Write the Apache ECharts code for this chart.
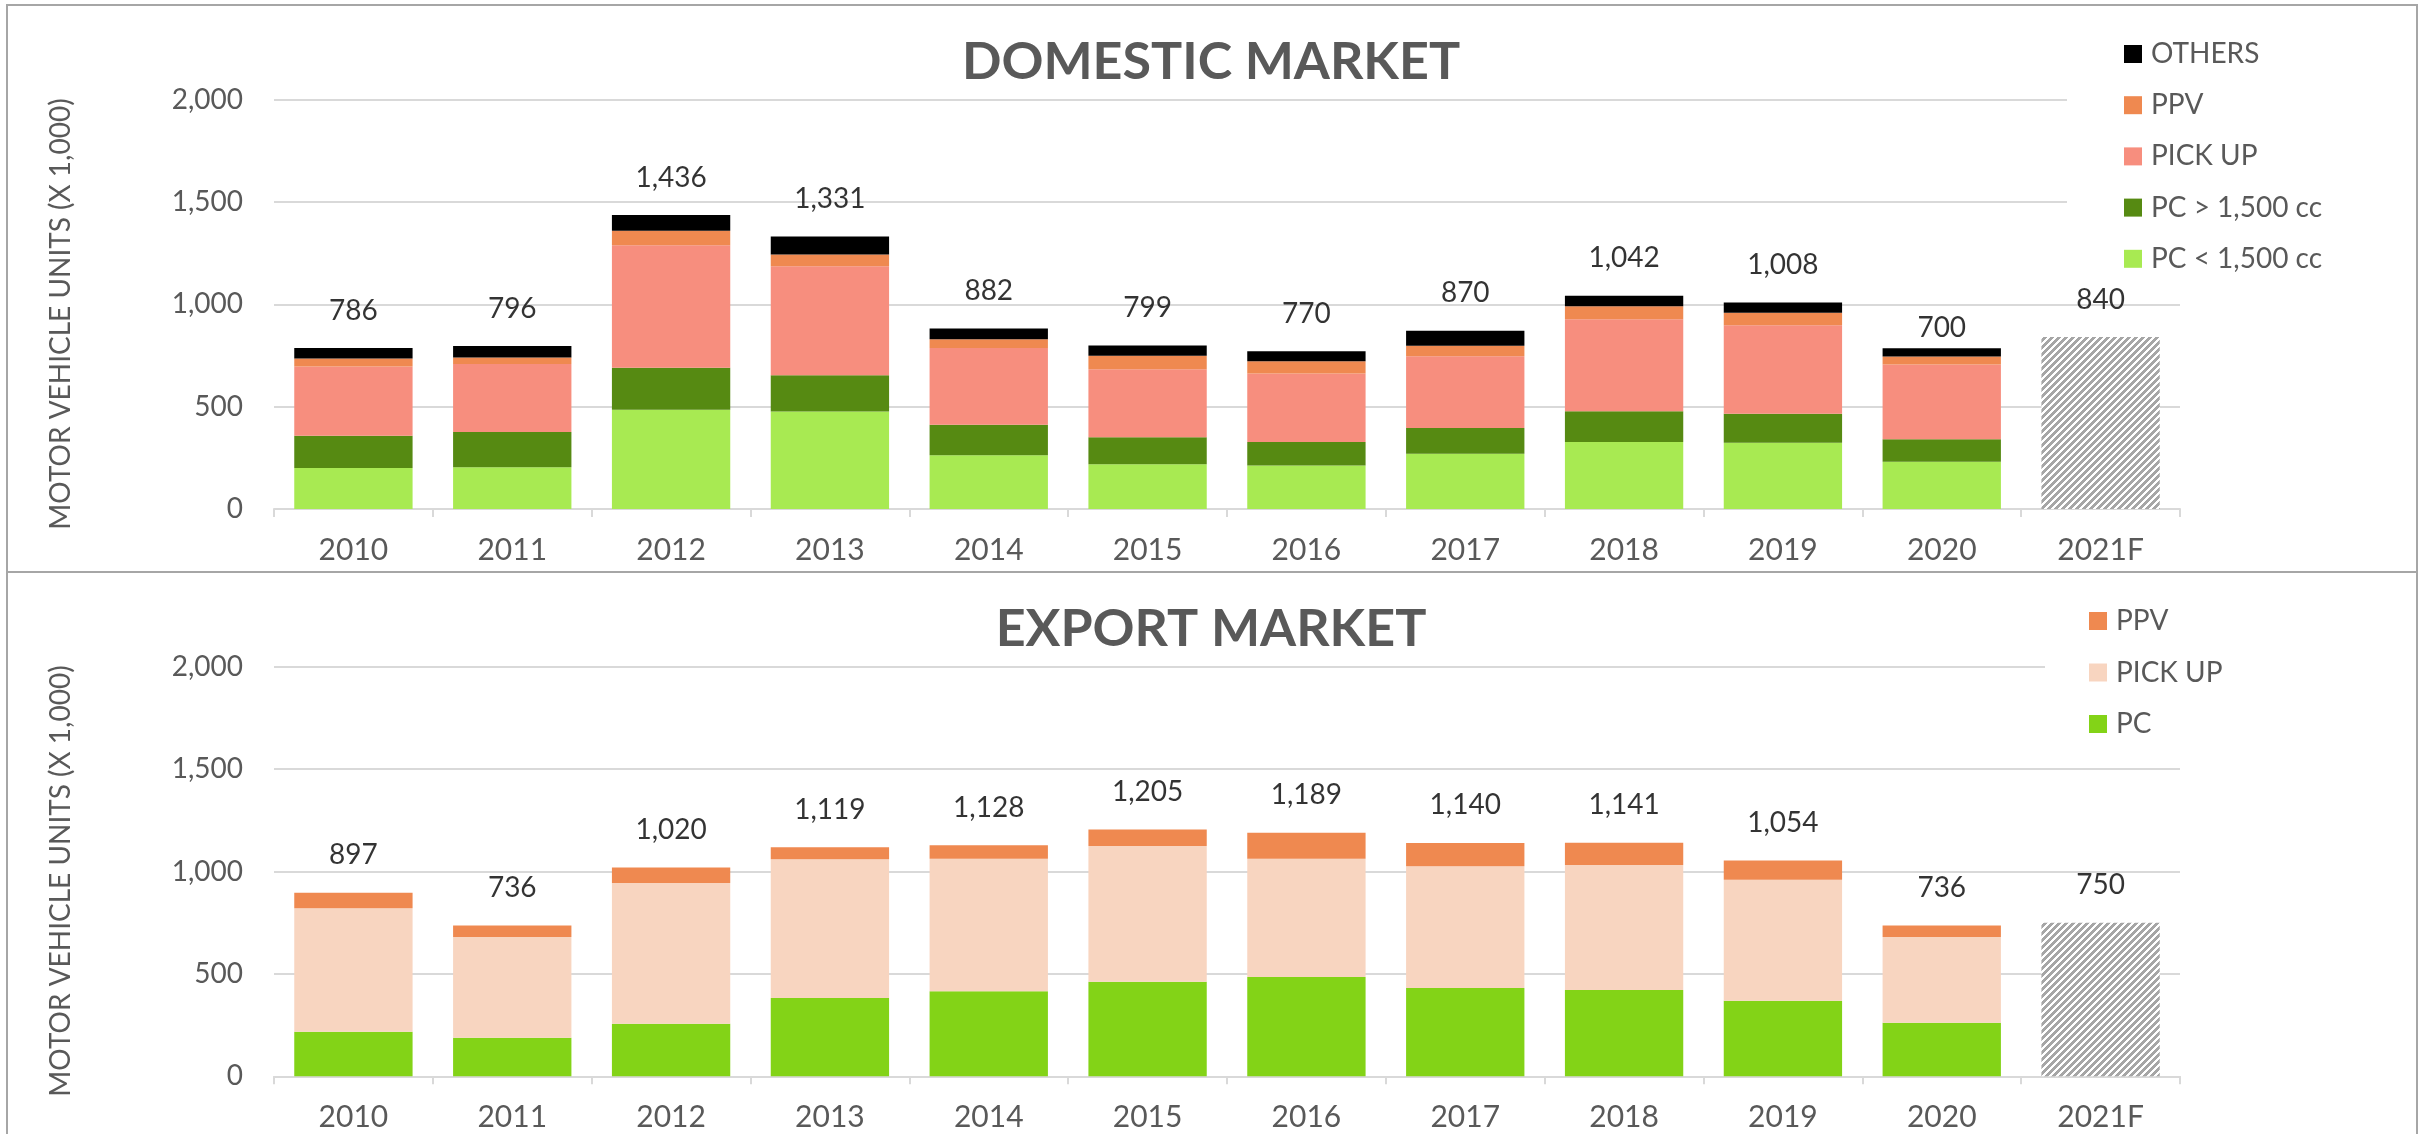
<!DOCTYPE html>
<html>
<head>
<meta charset="utf-8">
<script src="https://cdn.jsdelivr.net/npm/echarts@6/dist/echarts.min.js"></script>
<style>
  html, body { margin: 0; padding: 0; background: #fff; }
  #domestic { position: absolute; left: 0; top: 0; width: 2435px; height: 572px; }
  #export { position: absolute; left: 0; top: 572px; width: 2435px; height: 562px; }
</style>
</head>
<body>
<div id="domestic"></div>
<div id="export"></div>
<script>
// Years shown on both panels
const categories = ['2010', '2011', '2012', '2013', '2014', '2015', '2016', '2017', '2018', '2019', '2020', '2021F'];
const yTicks = { min: 0, max: 2000, interval: 500 };

// Domestic market (x 1,000 units)
const domPcSmall = [200, 204, 485, 476, 263, 218, 213, 270, 327, 323, 231];
const domPcLarge = [158, 172, 205, 177, 149, 133, 114, 126, 151, 142, 110];
const domPickup  = [338, 332, 598, 533, 374, 331, 335, 350, 449, 433, 365];
const domPpv     = [39, 32, 71, 57, 43, 67, 60, 51, 63, 60, 39];
const domOthers  = [51, 56, 77, 88, 53, 50, 48, 73, 52, 50, 40];
const domTotals  = [786, 796, 1436, 1331, 882, 799, 770, 870, 1042, 1008, 700, 840];

// Export market (x 1,000 units)
const expPc      = [218, 188, 257, 383, 415, 462, 485, 431, 422, 369, 262];
const expPickup  = [603, 492, 687, 677, 648, 663, 577, 595, 610, 591, 418];
const expPpv     = [76, 56, 76, 59, 65, 80, 127, 114, 109, 94, 56];
const expTotals  = [897, 736, 1020, 1119, 1128, 1205, 1189, 1140, 1141, 1054, 736, 750];

const FONT = 'Lato, "Open Sans", sans-serif';
const GREY_TEXT = '#595959';
const GRID_LINE = '#d9d9d9';

// Diagonal hatch used for the forecast year
function hatchPattern() {
  const n = 7;
  const c = document.createElement('canvas');
  c.width = n; c.height = n;
  const ctx = c.getContext('2d');
  ctx.fillStyle = '#ffffff';
  ctx.fillRect(0, 0, n, n);
  ctx.fillStyle = '#a6a6a6';
  for (let x = 0; x < n; x++) {
    for (let y = 0; y < n; y++) {
      if ((x + y) % n < 4) ctx.fillRect(x, y, 1, 1);
    }
  }
  return { image: c, repeat: 'repeat' };
}

const fmt = v => Number(v).toLocaleString('en-US');

function forecastData(totals) {
  return totals.map((v, i) => (i === totals.length - 1 ? v : null));
}

function stackBar(name, data, color) {
  return {
    name, type: 'bar', stack: 'total', data,
    barCategoryGap: '25.5%',
    itemStyle: { color },
    emphasis: { disabled: true },
    animation: false
  };
}

function totalLabels(totals) {
  return {
    name: 'TOTAL', type: 'scatter', data: totals, symbolSize: 1,
    itemStyle: { color: 'rgba(0,0,0,0)' },
    label: {
      show: true, position: 'top', distance: 23,
      color: '#000', fontSize: 28, fontFamily: FONT,
      formatter: p => fmt(p.value)
    },
    z: 5, animation: false
  };
}

function baseOption(p) {
  return {
    animation: false,
    textStyle: { fontFamily: FONT },
    grid: { left: 274, right: 255, top: p.gridTop, height: 409.5 },
    xAxis: {
      type: 'category', data: categories,
      axisLine: { lineStyle: { color: GRID_LINE, width: 2 } },
      axisTick: { show: true, length: 8, lineStyle: { color: GRID_LINE, width: 2 } },
      axisLabel: { color: GREY_TEXT, fontSize: 30, margin: 26, fontFamily: FONT }
    },
    yAxis: {
      type: 'value', min: yTicks.min, max: yTicks.max, interval: yTicks.interval,
      axisLine: { show: false }, axisTick: { show: false },
      splitLine: { lineStyle: { color: GRID_LINE, width: 2 } },
      axisLabel: { color: GREY_TEXT, fontSize: 28, margin: 31, fontFamily: FONT, formatter: fmt }
    },
    legend: {
      orient: 'vertical',
      left: p.legendIconX - p.legendPadLeft,
      top: p.legendFirstY - 14 - 10,
      padding: [10, 30, 10, p.legendPadLeft],
      backgroundColor: '#ffffff',
      itemWidth: 18, itemHeight: 18, itemGap: p.legendGap,
      icon: 'rect',
      data: p.legendNames,
      selectedMode: false,
      textStyle: { color: GREY_TEXT, fontSize: 28, lineHeight: 28, fontFamily: FONT, padding: [0, 0, 0, 4] }
    },
    graphic: [
      {
        type: 'rect', silent: true, z: 100,
        shape: p.frame,
        style: { fill: 'none', stroke: '#a6a6a6', lineWidth: 2 }
      },
      {
        type: 'text', x: 1211, y: p.titleY, silent: true,
        style: { text: p.title, font: 'bold 52px ' + FONT, fill: GREY_TEXT, align: 'center', verticalAlign: 'middle' }
      },
      {
        type: 'text', x: 61, y: p.yNameY, rotation: Math.PI / 2, silent: true,
        style: { text: 'MOTOR VEHICLE UNITS (X 1,000)', font: '28px ' + FONT, fill: GREY_TEXT, align: 'center', verticalAlign: 'middle' }
      }
    ],
    series: p.series
  };
}

const hatch = hatchPattern();

const domChart = echarts.init(document.getElementById('domestic'), null, { renderer: 'canvas' });
domChart.setOption(baseOption({
  gridTop: 99.5,
  title: 'DOMESTIC MARKET', titleY: 62, yNameY: 314,
  frame: { x: 7, y: 5, width: 2410, height: 567 },
  legendIconX: 2124, legendPadLeft: 57, legendFirstY: 54, legendGap: 23.2,
  legendNames: ['OTHERS', 'PPV', 'PICK UP', 'PC > 1,500 cc', 'PC < 1,500 cc'],
  series: [
    stackBar('PC < 1,500 cc', domPcSmall, '#a8ea52'),
    stackBar('PC > 1,500 cc', domPcLarge, '#568a12'),
    stackBar('PICK UP', domPickup, '#f78e7e'),
    stackBar('PPV', domPpv, '#ef8950'),
    stackBar('OTHERS', domOthers, '#000000'),
    stackBar('FORECAST', forecastData(domTotals), hatch),
    totalLabels(domTotals)
  ]
}));

const expChart = echarts.init(document.getElementById('export'), null, { renderer: 'canvas' });
expChart.setOption(baseOption({
  gridTop: 94.8,
  title: 'EXPORT MARKET', titleY: 57, yNameY: 309,
  frame: { x: 7, y: 0, width: 2410, height: 600 },
  legendIconX: 2089, legendPadLeft: 44, legendFirstY: 49, legendGap: 23.5,
  legendNames: ['PPV', 'PICK UP', 'PC'],
  series: [
    stackBar('PC', expPc, '#83d317'),
    stackBar('PICK UP', expPickup, '#f8d5c0'),
    stackBar('PPV', expPpv, '#ef8950'),
    stackBar('FORECAST', forecastData(expTotals), hatch),
    totalLabels(expTotals)
  ]
}));
</script>
</body>
</html>
